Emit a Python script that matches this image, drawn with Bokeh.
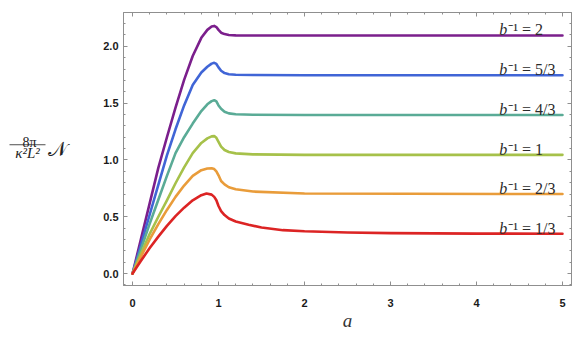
from bokeh.plotting import figure
from bokeh.layouts import row
from bokeh.models import (Range1d, SingleIntervalTicker, LinearAxis, NumeralTickFormatter,
                          CustomJSTickFormatter, ColumnDataSource)
from bokeh.core.properties import value
from bokeh.embed import file_html
from bokeh.resources import INLINE

# ---- data ----
a_main = [0, 0.1, 0.2, 0.3, 0.4, 0.5, 0.6, 0.7, 0.8, 0.87, 0.92, 0.95, 0.975, 1.0,
          1.03, 1.07, 1.12, 1.2, 1.4, 2.0, 5.0]
v_b2 = [0, 0.31, 0.62, 0.93, 1.2, 1.46, 1.705, 1.915, 2.075, 2.145, 2.175, 2.18, 2.17,
        2.145, 2.12, 2.108, 2.1, 2.097, 2.096, 2.096, 2.096]
v_b53 = [0, 0.26, 0.52, 0.78, 1.04, 1.27, 1.48, 1.66, 1.77, 1.82, 1.848, 1.855, 1.845,
         1.815, 1.785, 1.765, 1.755, 1.75, 1.748, 1.746, 1.746]
v_b43 = [0, 0.22, 0.44, 0.65, 0.86, 1.06, 1.2, 1.32, 1.43, 1.49, 1.518, 1.526, 1.515,
         1.48, 1.45, 1.425, 1.41, 1.402, 1.398, 1.396, 1.396]
v_b1 = [0, 0.178, 0.35, 0.5, 0.645, 0.795, 0.935, 1.06, 1.15, 1.19, 1.208, 1.21, 1.195,
        1.16, 1.118, 1.088, 1.07, 1.058, 1.049, 1.045, 1.045]
v_b23 = [0, 0.152, 0.3, 0.435, 0.56, 0.675, 0.775, 0.86, 0.91, 0.925, 0.927, 0.92, 0.9,
         0.865, 0.815, 0.785, 0.76, 0.742, 0.722, 0.705, 0.70]
a_red = [0, 0.1, 0.2, 0.3, 0.4, 0.5, 0.6, 0.7, 0.8, 0.86, 0.92, 0.95, 0.975, 1.0, 1.03,
         1.07, 1.12, 1.2, 1.35, 1.5, 1.75, 2.0, 2.5, 3.0, 4.0, 5.0]
v_b13 = [0, 0.115, 0.225, 0.325, 0.42, 0.505, 0.58, 0.645, 0.69, 0.705, 0.695, 0.675,
         0.645, 0.595, 0.55, 0.515, 0.485, 0.458, 0.43, 0.405, 0.382, 0.372, 0.362,
         0.356, 0.352, 0.35]
labels = ["\u207b\u00b9 = 2", "\u207b\u00b9 = 5/3", "\u207b\u00b9 = 4/3",
          "\u207b\u00b9 = 1", "\u207b\u00b9 = 2/3", "\u207b\u00b9 = 1/3"]
x_title = "a"
y_num, y_den, y_sym = "8\u03c0", "\u03ba\u00b2L\u00b2", "\U0001d4a9"
x_ticks_interval = 1
y_ticks_interval = 0.5

series = [(a_main, v_b2), (a_main, v_b53), (a_main, v_b43), (a_main, v_b1),
          (a_main, v_b23), (a_red, v_b13)]
colors = ["#7b1f8c", "#4065d6", "#5aab96", "#a6c14a", "#e99c3a", "#dc2424"]

FRAME = "#8f8f8f"
H = 333
LW = 80

p = figure(width=493, height=H, output_backend="svg", toolbar_location=None,
           x_range=Range1d(-0.105, 5.105), y_range=Range1d(-0.105, 2.298),
           min_border_left=43, min_border_right=2, min_border_top=12,
           min_border_bottom=47, x_axis_location=None, y_axis_location=None)
p.xgrid.visible = False
p.ygrid.visible = False
p.outline_line_color = FRAME
p.background_fill_color = "white"


def style_axis(ax, interval, labels_on):
    ax.ticker = SingleIntervalTicker(interval=interval, num_minor_ticks=5)
    ax.axis_line_color = FRAME
    ax.major_tick_line_color = FRAME
    ax.minor_tick_line_color = FRAME
    ax.major_tick_in = 4
    ax.major_tick_out = 0
    ax.minor_tick_in = 2
    ax.minor_tick_out = 0
    if labels_on:
        ax.major_label_text_font = "Liberation Sans"
        ax.major_label_text_font_style = "bold"
        ax.major_label_text_font_size = "11px"
        ax.major_label_text_color = "#1a1a1a"
    else:
        ax.formatter = CustomJSTickFormatter(code="return '';")
        ax.major_label_standoff = 0
        ax.major_label_text_font_size = "1px"


xb = LinearAxis(axis_label=x_title)
style_axis(xb, x_ticks_interval, True)
xb.major_label_standoff = 13
xb.axis_label_standoff = 0
xb.axis_label_text_font = "Liberation Serif"
xb.axis_label_text_font_style = "italic"
xb.axis_label_text_font_size = "19px"
xb.axis_label_text_color = "#333333"
p.add_layout(xb, "below")
yl = LinearAxis()
style_axis(yl, y_ticks_interval, True)
yl.formatter = NumeralTickFormatter(format="0.0")
yl.major_label_standoff = 5
p.add_layout(yl, "left")
xt = LinearAxis()
style_axis(xt, x_ticks_interval, False)
p.add_layout(xt, "above")
yr = LinearAxis()
style_axis(yr, y_ticks_interval, False)
p.add_layout(yr, "right")

for (xs, ys), c in zip(series, colors):
    p.line(xs, ys, line_color=c, line_width=2.6, line_join="round", line_cap="round")

# curve labels
lab_x = [4.265] * len(series)
lab_y = [ys[-1] + 0.05 for _, ys in series]
src = ColumnDataSource(dict(x=lab_x, y=lab_y, t=labels, b=["b"] * len(series)))
p.text(x="x", y="y", text="b", source=src, text_font=value("Liberation Serif"),
       text_font_style="italic", text_font_size="16px", text_color="#2b2b2b",
       text_baseline="alphabetic", text_align="left")
p.text(x="x", y="y", text="t", source=src, text_font=value("Liberation Serif"),
       text_font_size="16px", text_color="#2b2b2b", x_offset=9,
       text_baseline="alphabetic", text_align="left")

# left panel holding the horizontal y-axis title (pixel coordinates)
q = figure(width=LW, height=H, output_backend="svg", toolbar_location=None,
           title=None, x_range=Range1d(0, LW), y_range=Range1d(0, H),
           min_border_left=0, min_border_right=0, min_border_top=0, min_border_bottom=0,
           x_axis_location=None, y_axis_location=None)
q.xgrid.visible = False
q.ygrid.visible = False
q.outline_line_color = None
q.text(x=[29], y=[H - 159], text=[y_num], text_font=value("Liberation Serif"),
       text_font_size="14px", text_color="#222222", text_align="center",
       text_baseline="alphabetic")
q.segment(x0=[9], y0=[H - 161.3], x1=[45], y1=[H - 161.3], line_color="#222222",
          line_width=0.8)
q.text(x=[27], y=[H - 171.5], text=[y_den], text_font=value("Liberation Serif"),
       text_font_style="italic", text_font_size="15px", text_color="#222222",
       text_align="center", text_baseline="alphabetic")
q.text(x=[47], y=[H - 166], text=[y_sym], text_font=value("DejaVu Sans"),
       text_font_size="20px", text_color="#222222", text_align="left",
       text_baseline="alphabetic")

layout = row(q, p, spacing=0)
open("out.html", "w").write(file_html(layout, INLINE))
